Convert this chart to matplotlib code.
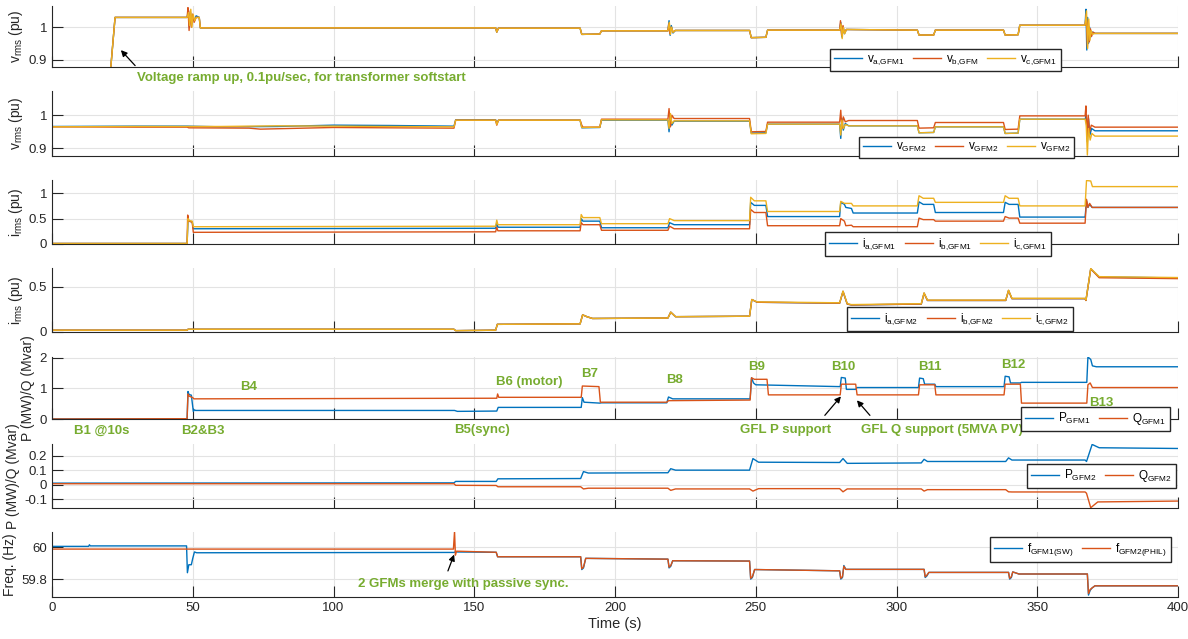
import numpy as np
import matplotlib.pyplot as plt

plt.rcParams['font.family'] = ['Liberation Sans', 'DejaVu Sans']
plt.rcParams['mathtext.default'] = 'regular'

BLUE = '#0072BD'
ORANGE = '#D95319'
YELLOW = '#EDB120'
GREEN = '#77AC30'
DARK = '#262626'

# ---- data: (time s, value) breakpoints ----
# GFM1 rms voltages
v1a = [(0, 0), (12.2, 0), (22.4, 1.03), (48.0, 1.03), (48.4, 1.05), (48.8, 1.00), (49.2, 1.045), (49.6, 1.01),
       (50.0, 1.035), (50.6, 1.02), (51.2, 1.035), (52.3, 1.03), (52.7, 0.998), (157.6, 0.998), (158.0, 0.985),
       (158.6, 0.997), (187.6, 0.997), (188.2, 0.978), (194.6, 0.979), (195.2, 0.989), (218.8, 0.989),
       (219.2, 1.02), (219.6, 0.975), (220.0, 1.005), (220.6, 0.982), (221.4, 0.99), (247.8, 0.99),
       (248.4, 0.968), (253.6, 0.969), (254.2, 0.991), (279.8, 0.991), (280.2, 1.015), (280.6, 0.97),
       (281.0, 1.0), (281.5, 0.98), (282.2, 0.993), (307.4, 0.991), (308.0, 0.976), (313.2, 0.976),
       (313.8, 0.991), (338.0, 0.991), (338.6, 0.976), (343.2, 0.977), (343.8, 1.006), (367.0, 1.006),
       (367.3, 1.055), (367.6, 0.93), (367.9, 1.03), (368.2, 0.95), (368.6, 1.0), (369.0, 0.97),
       (369.6, 0.985), (370.5, 0.981), (400, 0.981)]
v1b = [(0, 0), (12.2, 0), (22.4, 1.03), (48.0, 1.03), (48.3, 1.06), (48.7, 0.99), (49.1, 1.05), (49.5, 1.0),
       (49.9, 1.04), (50.5, 1.015), (51.2, 1.03), (52.3, 1.03), (52.7, 0.998), (157.6, 0.998), (158.0, 0.985),
       (158.6, 0.997), (187.6, 0.997), (188.2, 0.978), (194.6, 0.979), (195.2, 0.989), (218.8, 0.989),
       (219.1, 1.01), (219.5, 0.98), (220.0, 1.0), (220.6, 0.985), (221.4, 0.99), (247.8, 0.99),
       (248.4, 0.968), (253.6, 0.969), (254.2, 0.991), (279.8, 0.991), (280.1, 1.02), (280.5, 0.975),
       (281.0, 1.005), (281.5, 0.982), (282.2, 0.993), (307.4, 0.991), (308.0, 0.976), (313.2, 0.976),
       (313.8, 0.991), (338.0, 0.991), (338.6, 0.976), (343.2, 0.977), (343.8, 1.006), (367.0, 1.006),
       (367.4, 1.04), (367.8, 0.94), (368.1, 1.02), (368.5, 0.955), (368.9, 0.995), (369.3, 0.972),
       (369.8, 0.985), (370.5, 0.981), (400, 0.981)]
v1c = [(0, 0), (12.2, 0), (22.4, 1.03), (48.0, 1.03), (48.5, 1.045), (48.9, 1.005), (49.3, 1.055),
       (49.7, 1.0), (50.1, 1.04), (50.7, 1.02), (51.2, 1.03), (52.3, 1.03), (52.7, 0.998), (157.6, 0.998),
       (158.0, 0.985), (158.6, 0.997), (187.6, 0.997), (188.2, 0.978), (194.6, 0.979), (195.2, 0.989),
       (218.8, 0.989), (219.3, 1.015), (219.7, 0.978), (220.1, 1.0), (220.6, 0.984), (221.4, 0.99),
       (247.8, 0.99), (248.4, 0.968), (253.6, 0.969), (254.2, 0.991), (279.8, 0.991), (280.3, 1.01),
       (280.7, 0.965), (281.1, 1.0), (281.6, 0.98), (282.2, 0.993), (307.4, 0.991), (308.0, 0.976),
       (313.2, 0.976), (313.8, 0.991), (338.0, 0.991), (338.6, 0.976), (343.2, 0.977), (343.8, 1.006),
       (367.0, 1.006), (367.5, 1.05), (367.9, 0.935), (368.3, 1.025), (368.7, 0.96), (369.1, 0.99),
       (369.6, 0.978), (370.5, 0.981), (400, 0.981)]

# GFM2 rms voltages
v2a = [(0, 0.966), (30, 0.967), (48, 0.967), (60, 0.965), (80, 0.966), (100, 0.970), (120, 0.969),
       (142.8, 0.967), (143.4, 0.986), (157.6, 0.986), (158.0, 0.975), (158.6, 0.985), (187.6, 0.985),
       (188.2, 0.962), (194.6, 0.963), (195.2, 0.985), (218.8, 0.985), (219.2, 0.95), (219.7, 1.0),
       (220.2, 0.97), (221.0, 0.982), (247.8, 0.982), (248.4, 0.946), (253.6, 0.947), (254.2, 0.973),
       (279.8, 0.973), (280.2, 0.93), (280.6, 0.99), (281.1, 0.955), (281.8, 0.975), (283.0, 0.968),
       (307.4, 0.968), (308.0, 0.947), (313.2, 0.948), (313.8, 0.965), (338.0, 0.965), (338.6, 0.945),
       (343.2, 0.946), (343.8, 0.988), (367.0, 0.988), (367.4, 1.0), (367.8, 0.92), (368.2, 0.99),
       (368.7, 0.94), (369.3, 0.96), (370.5, 0.953), (400, 0.953)]
v2b = [(0, 0.965), (30, 0.964), (48, 0.964), (48.6, 0.962), (70, 0.961), (74, 0.958), (100, 0.963),
       (120, 0.962), (142.8, 0.961), (143.4, 0.985), (157.6, 0.985), (158.0, 0.97), (158.6, 0.985),
       (187.6, 0.985), (188.2, 0.97), (188.6, 0.964), (194.6, 0.964), (195.2, 0.988), (218.8, 0.988),
       (219.2, 1.02), (219.7, 0.965), (220.2, 1.0), (221.0, 0.99), (247.8, 0.99), (248.4, 0.95),
       (253.6, 0.951), (254.2, 0.979), (279.8, 0.979), (280.2, 1.015), (280.6, 0.96), (281.1, 0.995),
       (281.8, 0.98), (283.0, 0.984), (307.4, 0.984), (308.0, 0.961), (313.2, 0.962), (313.8, 0.978),
       (338.0, 0.978), (338.6, 0.957), (343.2, 0.958), (343.8, 0.998), (367.0, 0.998), (367.3, 1.028),
       (367.7, 0.93), (368.1, 1.0), (368.6, 0.95), (369.2, 0.97), (370.5, 0.964), (400, 0.964)]
v2c = [(0, 0.965), (30, 0.966), (48, 0.966), (60, 0.966), (80, 0.968), (100, 0.967), (120, 0.966),
       (142.8, 0.965), (143.4, 0.985), (157.6, 0.985), (158.0, 0.972), (158.6, 0.985), (187.6, 0.985),
       (188.2, 0.963), (194.6, 0.964), (195.2, 0.986), (218.8, 0.986), (219.2, 0.96), (219.7, 1.005),
       (220.2, 0.975), (221.0, 0.983), (247.8, 0.983), (248.4, 0.944), (253.6, 0.945), (254.2, 0.973),
       (279.8, 0.973), (280.2, 0.94), (280.6, 0.985), (281.1, 0.96), (281.8, 0.972), (283.0, 0.968),
       (307.4, 0.968), (308.0, 0.947), (313.2, 0.948), (313.8, 0.965), (338.0, 0.965), (338.6, 0.945),
       (343.2, 0.946), (343.8, 0.988), (367.0, 0.988), (367.4, 0.97), (367.8, 0.88), (368.2, 0.96),
       (368.8, 0.925), (369.4, 0.945), (370.5, 0.937), (400, 0.937)]

# GFM1 rms currents
i1a = [(0, 0.01), (48.0, 0.01), (48.3, 0.45), (49.8, 0.44), (50.2, 0.30), (157.6, 0.31), (158.0, 0.42),
       (158.4, 0.33), (187.6, 0.33), (188.0, 0.50), (188.6, 0.45), (194.6, 0.45), (195.2, 0.32),
       (218.8, 0.32), (219.4, 0.42), (221.0, 0.38), (247.8, 0.38), (248.2, 0.82), (249.5, 0.76),
       (253.6, 0.76), (254.2, 0.54), (279.8, 0.54), (280.2, 0.82), (281.5, 0.78), (282.0, 0.72),
       (284.0, 0.70), (284.6, 0.61), (307.4, 0.61), (308.0, 0.83), (309.5, 0.78), (313.2, 0.78),
       (313.8, 0.62), (338.0, 0.62), (338.6, 0.82), (340.0, 0.78), (343.2, 0.78), (343.8, 0.53),
       (367.0, 0.53), (367.5, 0.85), (368.0, 0.72), (368.6, 0.78), (369.5, 0.72), (400, 0.72)]
i1b = [(0, 0.01), (48.0, 0.01), (48.2, 0.57), (48.6, 0.45), (49.8, 0.43), (50.2, 0.23), (157.6, 0.24),
       (158.0, 0.33), (158.4, 0.26), (187.6, 0.26), (188.0, 0.42), (188.6, 0.38), (194.6, 0.38),
       (195.2, 0.27), (218.8, 0.27), (219.4, 0.35), (221.0, 0.30), (247.8, 0.30), (248.2, 0.68),
       (249.5, 0.62), (253.6, 0.62), (254.2, 0.36), (279.8, 0.36), (280.2, 0.50), (281.5, 0.45),
       (282.0, 0.36), (284.0, 0.37), (284.6, 0.34), (307.4, 0.34), (308.0, 0.51), (309.5, 0.48),
       (313.2, 0.48), (313.8, 0.45), (338.0, 0.45), (338.6, 0.54), (340.0, 0.51), (343.2, 0.51),
       (343.8, 0.41), (367.0, 0.41), (367.5, 0.88), (368.0, 0.72), (368.6, 0.80), (369.5, 0.72),
       (400, 0.72)]
i1c = [(0, 0.01), (48.0, 0.01), (48.3, 0.50), (48.7, 0.46), (49.8, 0.45), (50.2, 0.34), (157.6, 0.35),
       (158.0, 0.47), (158.4, 0.38), (187.6, 0.38), (188.0, 0.58), (188.6, 0.52), (194.6, 0.52),
       (195.2, 0.40), (218.8, 0.40), (219.4, 0.50), (221.0, 0.46), (247.8, 0.46), (248.2, 0.92),
       (249.5, 0.85), (253.6, 0.85), (254.2, 0.64), (279.8, 0.64), (280.2, 0.84), (281.5, 0.80),
       (284.0, 0.80), (284.6, 0.75), (307.4, 0.75), (308.0, 0.95), (309.5, 0.90), (313.2, 0.90),
       (313.8, 0.82), (338.0, 0.82), (338.6, 0.95), (340.0, 0.90), (343.2, 0.90), (343.8, 0.75),
       (367.0, 0.75), (367.5, 1.25), (369.0, 1.24), (369.6, 1.13), (400, 1.13)]

# GFM2 rms currents
i2a = [(0, 0.02), (48.0, 0.02), (48.3, 0.03), (142.8, 0.03), (143.4, 0.015), (157.6, 0.02),
       (158.2, 0.085), (187.6, 0.09), (188.5, 0.19), (190.0, 0.17), (192.0, 0.15), (218.8, 0.155),
       (219.8, 0.22), (221.5, 0.17), (247.8, 0.175), (248.6, 0.36), (250.5, 0.33), (279.8, 0.32),
       (281.0, 0.45), (282.5, 0.31), (284.0, 0.30), (308.8, 0.31), (309.8, 0.43), (311.0, 0.35),
       (338.8, 0.35), (339.8, 0.46), (341.0, 0.37), (367.0, 0.37), (367.3, 0.35), (369.0, 0.70),
       (372.0, 0.61), (400, 0.60)]
i2b = [(t, v - 0.008 if t > 370 else v) for t, v in i2a]
i2c = [(t, v + 0.004 if t > 250 else v) for t, v in i2a]

# GFM1 active / reactive power
P1 = [(0, 0), (48.0, 0.01), (48.3, 0.90), (48.7, 0.80), (49.5, 0.78), (50.2, 0.25), (50.6, 0.30),
      (51.0, 0.28), (143.0, 0.28), (144.0, 0.25), (158.0, 0.26), (158.5, 0.38), (188.0, 0.38),
      (188.4, 0.70), (189.0, 0.55), (194.6, 0.52), (195.2, 0.53), (218.4, 0.53), (219.0, 0.72),
      (220.5, 0.66), (248.0, 0.66), (248.5, 1.35), (249.2, 1.18), (250.0, 1.12), (280.0, 1.06),
      (280.4, 1.36), (281.8, 1.34), (282.2, 0.97), (285.5, 0.97), (286.0, 1.03), (307.8, 1.03),
      (308.2, 1.34), (309.5, 1.32), (310.0, 1.14), (313.6, 1.14), (314.0, 1.06), (338.2, 1.06),
      (338.6, 1.40), (340.0, 1.38), (340.5, 1.18), (344.0, 1.18), (344.4, 1.2), (367.6, 1.2),
      (368.0, 2.03), (369.0, 1.95), (369.6, 1.74), (371.0, 1.71), (400, 1.71)]
Q1 = [(0, 0), (48.0, 0.01), (48.3, 0.82), (48.7, 0.75), (50.0, 0.70), (50.4, 0.66), (158.0, 0.68),
      (158.3, 0.82), (158.7, 0.71), (188.0, 0.71), (188.4, 1.08), (194.3, 1.06), (194.8, 0.55),
      (218.4, 0.55), (219.0, 0.60), (248.0, 0.62), (248.5, 1.35), (249.5, 1.30), (254.0, 1.30),
      (254.5, 0.79), (280.0, 0.79), (280.4, 1.14), (285.5, 1.14), (286.0, 0.79), (307.8, 0.79),
      (308.2, 1.12), (313.6, 1.12), (314.0, 0.79), (338.2, 0.79), (338.6, 1.14), (344.0, 1.14),
      (344.4, 0.52), (367.6, 0.52), (368.0, 1.12), (368.8, 1.18), (369.6, 1.03), (400, 1.03)]

# GFM2 active / reactive power
P2 = [(0, 0.01), (142.8, 0.012), (143.4, 0.022), (157.8, 0.022), (158.4, 0.04), (187.8, 0.042),
      (188.8, 0.09), (190.5, 0.08), (218.8, 0.082), (219.8, 0.11), (221.5, 0.10), (247.8, 0.10),
      (249.0, 0.18), (251.0, 0.155), (279.8, 0.153), (281.0, 0.18), (282.5, 0.147), (308.8, 0.15),
      (309.8, 0.175), (311.0, 0.16), (338.8, 0.16), (339.8, 0.185), (341.0, 0.17), (367.0, 0.17),
      (367.5, 0.16), (369.5, 0.278), (372.0, 0.255), (400, 0.25)]
Q2 = [(0, 0.006), (142.8, 0.006), (143.4, -0.005), (157.8, -0.006), (158.4, -0.015), (187.8, -0.015),
      (188.8, -0.03), (190.5, -0.025), (218.8, -0.025), (219.8, -0.04), (221.5, -0.03), (247.8, -0.03),
      (249.0, -0.045), (251.0, -0.028), (279.8, -0.028), (281.0, -0.05), (282.5, -0.03), (308.8, -0.03),
      (309.8, -0.045), (311.0, -0.035), (338.8, -0.035), (339.8, -0.05), (341.0, -0.051), (367.0, -0.051),
      (367.5, -0.06), (369.0, -0.16), (371.5, -0.12), (400, -0.114)]

# frequencies
f1 = [(0, 60.005), (13.0, 60.005), (13.3, 60.015), (13.6, 60.008), (47.8, 60.008), (48.1, 59.84),
      (48.6, 59.89), (49.5, 59.89), (50.0, 59.93), (50.6, 59.97), (51.4, 59.965), (142.8, 59.967),
      (143.2, 59.97), (157.8, 59.968), (158.3, 59.94), (187.8, 59.94), (188.2, 59.86), (188.8, 59.87),
      (189.6, 59.93), (218.8, 59.925), (219.2, 59.87), (219.8, 59.88), (220.5, 59.915), (247.8, 59.913),
      (248.2, 59.80), (248.8, 59.81), (249.6, 59.86), (279.8, 59.852), (280.2, 59.80), (280.8, 59.81),
      (281.3, 59.885), (282.0, 59.861), (309.8, 59.861), (310.2, 59.81), (310.8, 59.82), (311.5, 59.842),
      (339.8, 59.842), (340.2, 59.80), (340.8, 59.81), (341.3, 59.845), (343.5, 59.832), (367.8, 59.832),
      (368.2, 59.70), (368.8, 59.73), (369.5, 59.745), (370.5, 59.758), (400, 59.758)]
f2 = [(0, 59.988), (142.6, 59.988), (143.0, 60.10), (143.3, 59.95), (143.7, 59.975), (157.8, 59.968),
      (158.3, 59.94), (187.8, 59.94), (188.2, 59.865), (188.8, 59.875), (189.6, 59.93), (218.8, 59.925),
      (219.2, 59.875), (219.8, 59.885), (220.5, 59.915), (247.8, 59.913), (248.2, 59.805),
      (248.8, 59.815), (249.6, 59.86), (279.8, 59.852), (280.2, 59.805), (280.8, 59.815), (281.3, 59.88),
      (282.0, 59.861), (309.8, 59.861), (310.2, 59.815), (310.8, 59.825), (311.5, 59.842),
      (339.8, 59.842), (340.2, 59.805), (340.8, 59.815), (341.3, 59.845), (343.5, 59.832),
      (367.8, 59.832), (368.2, 59.71), (368.8, 59.735), (369.5, 59.745), (370.5, 59.758), (400, 59.758)]

# ---- figure ----
W, H = 1188, 639
fig = plt.figure(figsize=(W / 100, H / 100), dpi=100)

L, R = 52, 1178
rows = [(6, 67), (91, 156), (180, 244), (268, 332), (357, 419), (444, 508), (532, 597)]
ylims = [(0.878, 1.065), (0.877, 1.073), (0, 1.26), (0, 0.71), (0, 2.03), (-0.162, 0.281), (59.688, 60.095)]
yticks = [[0.9, 1], [0.9, 1], [0, 0.5, 1], [0, 0.5], [0, 1, 2], [-0.1, 0, 0.1, 0.2], [59.8, 60]]
ylabels = [r'v$_{rms}$ (pu)', r'v$_{rms}$ (pu)', r'i$_{rms}$ (pu)', r'i$_{rms}$ (pu)',
           'P (MW)/Q (Mvar)', 'P (MW)/Q (Mvar)', 'Freq. (Hz)']

axes = []
for k, (top, bot) in enumerate(rows):
    ax = fig.add_axes([L / W, 1 - bot / H, (R - L) / W, (bot - top) / H])
    ax.set_xlim(0, 400)
    ax.set_ylim(*ylims[k])
    ax.set_yticks(yticks[k])
    ax.set_yticklabels([('%g' % v) for v in yticks[k]])
    ax.set_xticks(np.arange(0, 401, 50))
    ax.grid(True, color='#e3e3e3', lw=0.8)
    ax.set_axisbelow(True)
    for s in ['top', 'right']:
        ax.spines[s].set_visible(False)
    for s in ['left', 'bottom']:
        ax.spines[s].set_color(DARK)
        ax.spines[s].set_linewidth(0.8)
    ax.tick_params(direction='in', length=8, width=0.8, color=DARK, labelcolor=DARK, labelsize=9.5)
    if k < 6:
        ax.tick_params(labelbottom=False)
    ax.set_ylabel(ylabels[k], fontsize=10, color=DARK, labelpad=3)
    axes.append(ax)


def draw(ax, pts, color, label):
    t, v = zip(*pts)
    ax.plot(t, v, color=color, lw=1.0, label=label)


def legend(ax, left, top, ncol):
    ax.legend(loc='upper left', bbox_to_anchor=(left / W, 1 - top / H), bbox_transform=fig.transFigure,
              ncol=ncol, fontsize=8.5, frameon=True, fancybox=False, framealpha=1, edgecolor=DARK,
              handlelength=2.4, columnspacing=0.7, borderpad=0.35, handletextpad=0.4, borderaxespad=0)


draw(axes[0], v1a, BLUE, r'$v_{a{,}GFM1}$')
draw(axes[0], v1b, ORANGE, r'$v_{b{,}GFM}$')
draw(axes[0], v1c, YELLOW, r'$v_{c{,}GFM1}$')
legend(axes[0], 830, 49, 3)

draw(axes[1], v2a, BLUE, r'$v_{GFM2}$')
draw(axes[1], v2b, ORANGE, r'$v_{GFM2}$')
draw(axes[1], v2c, YELLOW, r'$v_{GFM2}$')
legend(axes[1], 859, 137, 3)

draw(axes[2], i1a, BLUE, r'$i_{a{,}GFM1}$')
draw(axes[2], i1b, ORANGE, r'$i_{b{,}GFM1}$')
draw(axes[2], i1c, YELLOW, r'$i_{c{,}GFM1}$')
legend(axes[2], 825, 232, 3)

draw(axes[3], i2a, BLUE, r'$i_{a{,}GFM2}$')
draw(axes[3], i2b, ORANGE, r'$i_{b{,}GFM2}$')
draw(axes[3], i2c, YELLOW, r'$i_{c{,}GFM2}$')
legend(axes[3], 847, 307, 3)

draw(axes[4], P1, BLUE, r'$P_{GFM1}$')
draw(axes[4], Q1, ORANGE, r'$Q_{GFM1}$')
legend(axes[4], 1021, 407, 2)

draw(axes[5], P2, BLUE, r'$P_{GFM2}$')
draw(axes[5], Q2, ORANGE, r'$Q_{GFM2}$')
legend(axes[5], 1027, 464, 2)

draw(axes[6], f1, BLUE, r'$f_{GFM1(SW)}$')
draw(axes[6], f2, ORANGE, r'$f_{GFM2(PHIL)}$')
legend(axes[6], 990, 537, 2)

axes[6].set_xlabel('Time (s)', fontsize=10.5, color=DARK, labelpad=2)

# ---- annotations ----
arrow = dict(arrowstyle='-|>', color='black', lw=0.9, mutation_scale=9)
tk = dict(color=GREEN, fontsize=9.5, fontweight='bold', annotation_clip=False)

axes[0].annotate('', xy=(23.8, 0.936), xytext=(30.2, 0.876), arrowprops=arrow, annotation_clip=False)
axes[0].annotate('Voltage ramp up, 0.1pu/sec, for transformer softstart', xy=(30.2, 0.845),
                 ha='left', va='center', **tk)

ax5 = axes[4]
for txt, x, y in [('B1 @10s', 17.8, -0.40), ('B2&B3', 53.6, -0.40), ('B4', 69.8, 1.06),
                  ('B5(sync)', 152.7, -0.35), ('B6 (motor)', 169.5, 1.2), ('B7', 191.0, 1.46),
                  ('B8', 221.0, 1.28), ('B9', 250.3, 1.71), ('B10', 281.1, 1.71), ('B11', 311.8, 1.69),
                  ('B12', 341.3, 1.76), ('B13', 372.8, 0.54), ('GFL P support', 260.5, -0.37),
                  ('GFL Q support (5MVA PV)', 316.3, -0.37)]:
    ax5.annotate(txt, xy=(x, y), ha='center', va='center', **tk)
ax5.annotate('', xy=(280.9, 0.81), xytext=(273.9, 0.05), arrowprops=arrow, annotation_clip=False)
ax5.annotate('', xy=(285.3, 0.68), xytext=(291.2, 0.05), arrowprops=arrow, annotation_clip=False)

axes[6].annotate('2 GFMs merge with passive sync.', xy=(108.7, 59.768), ha='left', va='center', **tk)
axes[6].annotate('', xy=(143.2, 59.97), xytext=(140.3, 59.835), arrowprops=arrow, annotation_clip=False)

fig.savefig('out.png', dpi=100)
